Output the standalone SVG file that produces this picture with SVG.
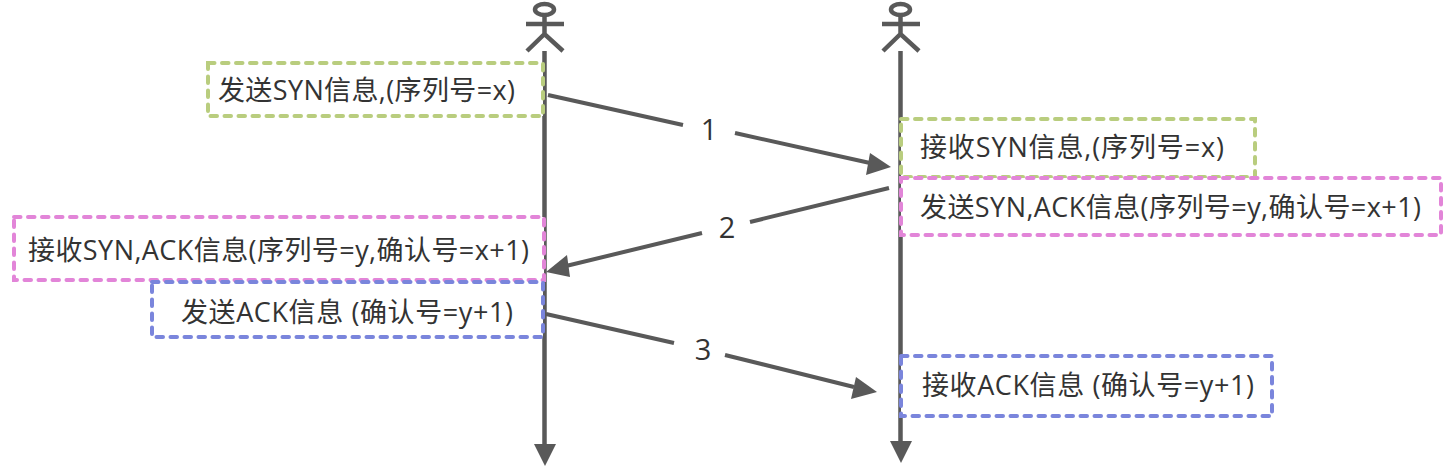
<svg xmlns="http://www.w3.org/2000/svg" width="1454" height="466" viewBox="0 0 1454 466">
<style>
text{font-family:"Open Sans","Noto Sans CJK SC",sans-serif;font-size:27px;fill:#333}
.l{stroke:#595959;stroke-width:4.500;fill:none}
.c{stroke:#595959;stroke-width:4;fill:none}
.h{fill:#595959}
.b{fill:#fff;stroke-width:4;stroke-dasharray:6.500 7.500;stroke-linecap:round}
.g{stroke:#b9cd7e}.p{stroke:#e285d8}.u{stroke:#7a85dc}
.n{font-size:29px;text-anchor:middle}
</style>
<rect width="1454" height="466" fill="#fff"/>
<g id="connectors">
<path class="l" d="M544.500 51V446"/>
<polygon class="h" points="534,444 556,444 545,466"/>
<path class="l" d="M900.500 51V446"/>
<polygon class="h" points="890,441 912,441 901,463"/>
</g>
<g id="n1"><rect class="b g" x="208" y="63" width="335" height="53"/><text x="218" y="100" textLength="297">发送SYN信息,(序列号=x)</text></g>
<g id="n2"><rect class="b g" x="901" y="119" width="354" height="58"/><text x="920" y="157" textLength="304">接收SYN信息,(序列号=x)</text></g>
<g id="n3"><rect class="b p" x="901" y="178" width="540" height="57"/><text x="920" y="217" textLength="501">发送SYN,ACK信息(序列号=y,确认号=x+1)</text></g>
<g id="n4"><rect class="b p" x="14" y="217" width="530" height="63"/><text x="28" y="260" textLength="501">接收SYN,ACK信息(序列号=y,确认号=x+1)</text></g>
<g id="n5"><rect class="b u" x="152" y="282" width="391" height="55"/><text x="181" y="322" textLength="332">发送ACK信息 (确认号=y+1)</text></g>
<g id="n6"><rect class="b u" x="901" y="356" width="371" height="60"/><text x="922" y="395" textLength="332">接收ACK信息 (确认号=y+1)</text></g>
<g id="actor-a" class="l"><ellipse cx="544.500" cy="9.500" rx="9.500" ry="5.500"/><path d="M526 24H564M544.500 16V34M527 51L544.500 34L563 51"/></g>
<g id="actor-b" class="l"><ellipse cx="900.500" cy="9.500" rx="9.500" ry="5.500"/><path d="M882 24H920M900.500 16V34M883 51L900.500 34L919 51"/></g>
<g id="arrows">
<path class="c" d="M548 95L683 125M735 133L870 163"/>
<polygon class="h" points="891,167 866,175 870,153"/>
<path class="c" d="M889 188L750 222M702 233L566 266"/>
<polygon class="h" points="546,272 567,255 570,277"/>
<path class="c" d="M546 314L674 343M725 355L854 387"/>
<polygon class="h" points="877,392 851,399 856,377"/>
<text class="n" x="709" y="140">1</text>
<text class="n" x="727" y="238">2</text>
<text class="n" x="703" y="360">3</text>
</g>
</svg>
